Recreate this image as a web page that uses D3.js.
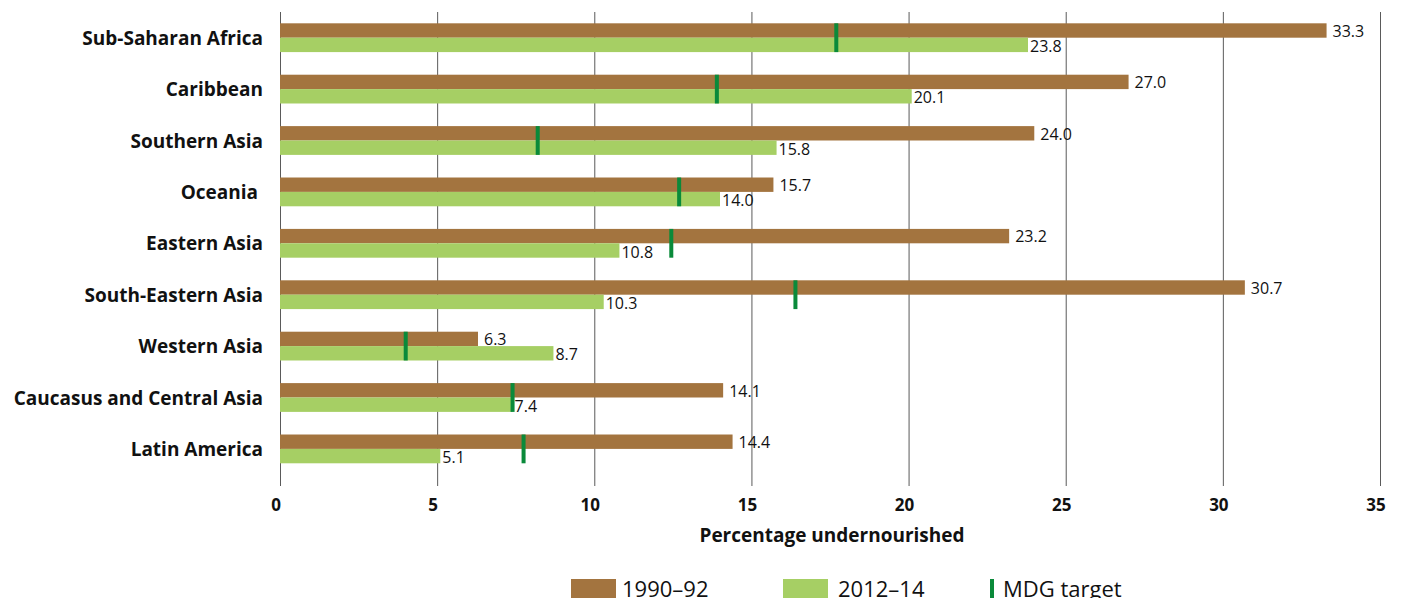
<!DOCTYPE html>
<html>
<head>
<meta charset="utf-8">
<script src="https://cdn.jsdelivr.net/npm/d3@7"></script>
<style>
  body { margin: 0; background: #fff; }
  text { font-family: "Open Sans", "Noto Sans", sans-serif; }
</style>
</head>
<body>
<svg id="svg" width="1402" height="598"></svg>
<script>
// data
const regions = ["Sub-Saharan Africa", "Caribbean", "Southern Asia", "Oceania\u00a0", "Eastern Asia",
                 "South-Eastern Asia", "Western Asia", "Caucasus and Central Asia", "Latin America"];
const v1990 = [33.3, 27.0, 24.0, 15.7, 23.2, 30.7, 6.3, 14.1, 14.4];
const v2012 = [23.8, 20.1, 15.8, 14.0, 10.8, 10.3, 8.7, 7.4, 5.1];
const mdg = [17.7, 13.9, 8.2, 12.7, 12.45, 16.4, 4.0, 7.4, 7.75];
const xTicks = [0, 5, 10, 15, 20, 25, 30, 35];
const seriesNames = ["1990\u201392", "2012\u201314", "MDG target"];

const brown = "#a3743f", green = "#a6cf64", mdgCol = "#0a8a3a";

const svg = d3.select("#svg");
const x = d3.scaleLinear().domain([0, 35]).range([280, 1380]);
const y = d3.scaleBand().domain(regions).range([12, 12 + 9 * 51.4]).paddingInner(0.44).paddingOuter(0.22);
const half = y.bandwidth() / 2;

// grid lines
svg.append("g").selectAll("line").data(xTicks).join("line")
    .attr("x1", d => x(d) + 0.5).attr("x2", d => x(d) + 0.5)
    .attr("y1", 12).attr("y2", 486)
    .attr("stroke", "#5a5a5a").attr("stroke-width", 1);

// tick labels
svg.append("g").selectAll("text").data(xTicks).join("text")
    .attr("x", d => x(d) - 4).attr("y", 511)
    .attr("text-anchor", "middle")
    .style("font-size", "17px").style("font-weight", 700).style("fill", "#111")
    .text(d => d);

svg.append("text").attr("x", 832).attr("y", 542).attr("text-anchor", "middle")
    .style("font-size", "19px").style("font-weight", 700).style("fill", "#111")
    .text("Percentage undernourished");

// bars
const g = svg.append("g");
g.selectAll(".b1").data(regions).join("rect")
    .attr("x", x(0)).attr("y", d => y(d))
    .attr("width", (d, i) => x(v1990[i]) - x(0)).attr("height", half)
    .attr("fill", brown);
g.selectAll(".b2").data(regions).join("rect")
    .attr("x", x(0)).attr("y", d => y(d) + half)
    .attr("width", (d, i) => x(v2012[i]) - x(0)).attr("height", half)
    .attr("fill", green);

// MDG target markers
g.selectAll(".m").data(regions).join("rect")
    .attr("x", (d, i) => x(mdg[i]) - 2).attr("y", d => y(d))
    .attr("width", 4).attr("height", y.bandwidth())
    .attr("fill", mdgCol);

// value labels
g.selectAll(".l1").data(regions).join("text")
    .attr("x", (d, i) => x(v1990[i]) + 6).attr("y", d => y(d) + half - 1)
    .style("font-size", "16px").style("fill", "#111")
    .text((d, i) => v1990[i].toFixed(1));
g.selectAll(".l2").data(regions).join("text")
    .attr("x", (d, i) => x(v2012[i]) + 2).attr("y", d => y(d) + 2 * half)
    .style("font-size", "16px").style("fill", "#111")
    .text((d, i) => v2012[i].toFixed(1));

// category labels
svg.append("g").selectAll("text").data(regions).join("text")
    .attr("x", 263).attr("y", d => y(d) + half + 7)
    .attr("text-anchor", "end")
    .style("font-size", "19px").style("font-weight", 700).style("fill", "#111")
    .text(d => d);

// legend
const lg = svg.append("g");
lg.append("rect").attr("x", 571).attr("y", 579).attr("width", 45).attr("height", 20).attr("fill", brown);
lg.append("text").attr("x", 622).attr("y", 597).style("font-size", "22px").style("fill", "#111").text(seriesNames[0]);
lg.append("rect").attr("x", 783).attr("y", 579).attr("width", 45).attr("height", 20).attr("fill", green);
lg.append("text").attr("x", 838).attr("y", 597).style("font-size", "22px").style("fill", "#111").text(seriesNames[1]);
lg.append("rect").attr("x", 990).attr("y", 579).attr("width", 4).attr("height", 20).attr("fill", mdgCol);
lg.append("text").attr("x", 1003).attr("y", 597).style("font-size", "22px").style("fill", "#111").text(seriesNames[2]);
</script>
</body>
</html>
